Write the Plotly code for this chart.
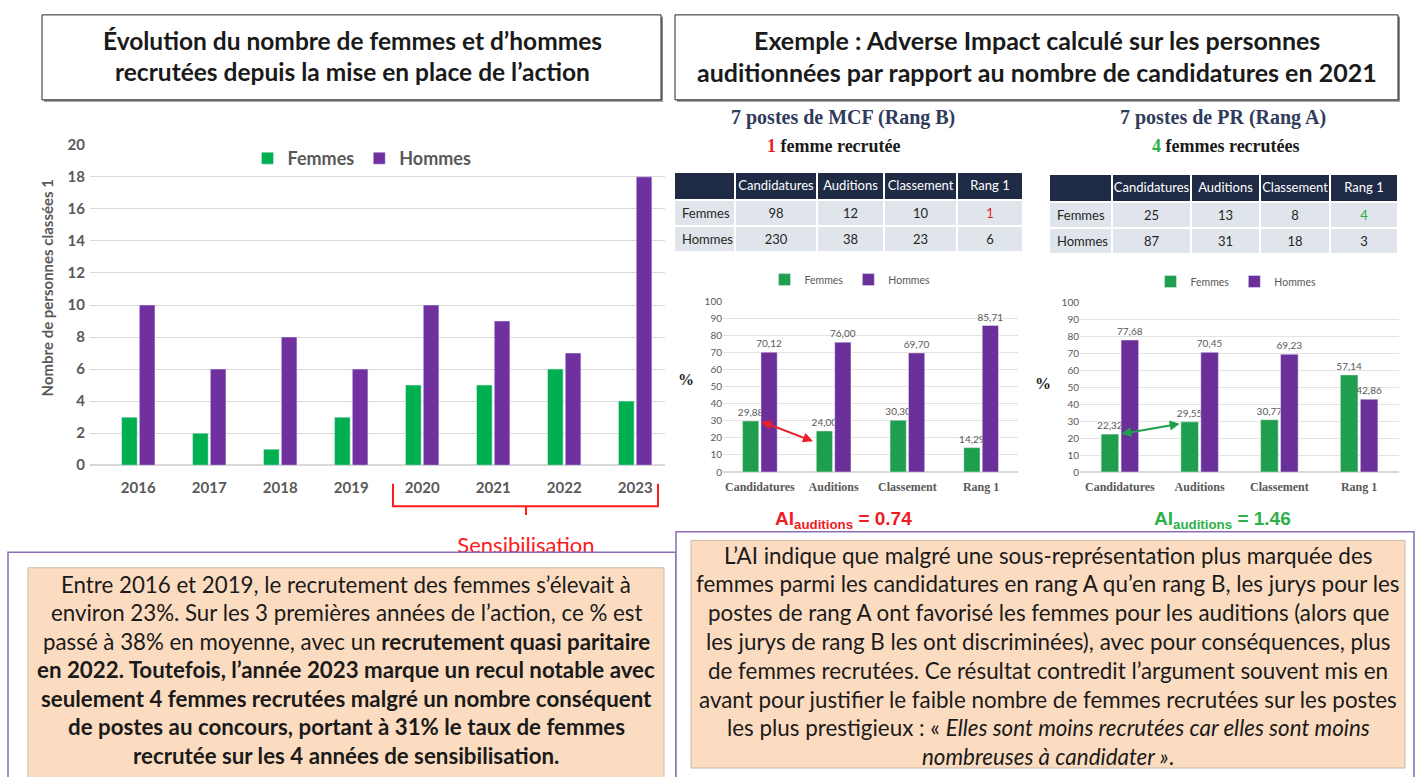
import plotly.graph_objects as go

W, H = 1415, 777

# Recrutements (personnes classées 1) par année
years = ["2016", "2017", "2018", "2019", "2020", "2021", "2022", "2023"]
femmes = [3, 2, 1, 3, 5, 5, 6, 4]
hommes = [10, 6, 8, 6, 10, 9, 7, 18]

# Concours 2021 : étapes de sélection
etapes = ["Candidatures", "Auditions", "Classement", "Rang 1"]
mcf_femmes = [98, 12, 10, 1]
mcf_hommes = [230, 38, 23, 6]
mcf_pct_femmes = [29.88, 24.00, 30.30, 14.29]
mcf_pct_hommes = [70.12, 76.00, 69.70, 85.71]
pr_femmes = [25, 13, 8, 4]
pr_hommes = [87, 31, 18, 3]
pr_pct_femmes = [22.32, 29.55, 30.77, 57.14]
pr_pct_hommes = [77.68, 70.45, 69.23, 42.86]
ai_mcf = 0.74
ai_pr = 1.46

GREEN = "#00b050"
PURPLE = "#7030a0"
GREEN2 = "#1f9f4d"
PURPLE2 = "#6a2f98"
GREY = "#595959"
RED = "#ee1c25"
OKGREEN = "#2db04a"
PEACH = "#fcdcc0"
BOXPURPLE = "#8a6cb8"
NAVY = "#1f2a45"
ROWFILL = "#dfe5ea"
SANS = "Lato"
SERIF = "Liberation Serif"


def fx(x):
    return x / W


def fy(y):
    return 1 - y / H


fig = go.Figure()

# ---- Histogramme principal ----
xi = list(range(len(years)))
fig.add_trace(go.Bar(x=xi, y=femmes, name="Femmes", marker_color=GREEN,
                     xaxis="x", yaxis="y", legend="legend", hoverinfo="skip"))
fig.add_trace(go.Bar(x=xi, y=hommes, name="Hommes", marker_color=PURPLE,
                     xaxis="x", yaxis="y", legend="legend", hoverinfo="skip"))

# libellé de la période de sensibilisation, rogné par l'encadré du dessous
fig.add_trace(go.Scatter(x=[0.5], y=[0.15], text=["Sensibilisation"], mode="text",
                         textfont=dict(family=SANS, size=22, color="#ff1a1a"),
                         cliponaxis=True, showlegend=False, hoverinfo="skip",
                         xaxis="x4", yaxis="y4"))

# ---- Pourcentages MCF / PR ----
bar_text = dict(texttemplate="%{y:.2f}", textposition="outside", cliponaxis=False,
                constraintext="none", textfont=dict(family=SANS, size=10, color=GREY),
                hoverinfo="skip")
fig.add_trace(go.Bar(x=etapes, y=mcf_pct_femmes, name="Femmes", marker_color=GREEN2,
                     xaxis="x2", yaxis="y2", legend="legend2", **bar_text))
fig.add_trace(go.Bar(x=etapes, y=mcf_pct_hommes, name="Hommes", marker_color=PURPLE2,
                     xaxis="x2", yaxis="y2", legend="legend2", **bar_text))
fig.add_trace(go.Bar(x=etapes, y=pr_pct_femmes, name="Femmes", marker_color=GREEN2,
                     xaxis="x3", yaxis="y3", legend="legend3", **bar_text))
fig.add_trace(go.Bar(x=etapes, y=pr_pct_hommes, name="Hommes", marker_color=PURPLE2,
                     xaxis="x3", yaxis="y3", legend="legend3", **bar_text))


# ---- Tableaux d'effectifs ----
def table(fem, hom, highlight, x0, x1, y0, widths):
    last = len(fem) - 1
    cols = [["Femmes", "Hommes"]] + [[f, h] for f, h in zip(fem, hom)]
    colors = [["#262626", "#262626"]] * last + [["#262626", "#262626"], [highlight, "#262626"]]
    header = [""] + [e.replace(" ", "\u00a0") for e in etapes]
    return go.Table(
        domain=dict(x=[fx(x0), fx(x1)], y=[fy(y0 + 84), fy(y0)]),
        columnwidth=widths,
        header=dict(values=header, fill_color=NAVY, height=28,
                    line=dict(color="white", width=1.5),
                    font=dict(family=SANS, size=13, color="white"), align="center"),
        cells=dict(values=cols, fill_color=ROWFILL, height=26,
                   line=dict(color="white", width=1.5),
                   font=dict(family=SANS, size=13, color=colors),
                   align=["left", "center", "center", "center", "center"]),
    )


fig.add_trace(table(mcf_femmes, mcf_hommes, RED, 674, 1023, 166, [61, 82, 67, 73, 66]))
fig.add_trace(table(pr_femmes, pr_hommes, OKGREEN, 1049, 1398, 168, [63, 79, 69, 70, 68]))

tickfont_b = dict(family=SANS, size=15, color=GREY, weight="bold")
sub_x = dict(type="category", showgrid=False, zeroline=False, showline=False, ticks="",
             tickfont=dict(family=SERIF, size=12, color=GREY, weight="bold"),
             ticklabelstandoff=6, fixedrange=True)
sub_y = dict(range=[0, 100], dtick=10, gridcolor="#e3e3e3", gridwidth=1, zeroline=True,
             zerolinecolor="#d9d9d9", showline=False, ticks="",
             tickfont=dict(family=SANS, size=10, color=GREY), fixedrange=True)

fig.update_layout(
    width=W, height=H,
    margin=dict(l=0, r=0, t=0, b=0),
    paper_bgcolor="white", plot_bgcolor="white",
    separators=", ",
    barmode="group", bargap=0.5, bargroupgap=0.12,
    font=dict(family=SANS, color="#1a1a1a"),
    xaxis=dict(domain=[fx(90), fx(665)], range=[-0.68, 7.42], tickvals=xi, ticktext=years,
               showgrid=False, zeroline=False, showline=False, ticks="",
               tickfont=tickfont_b, ticklabelstandoff=12, fixedrange=True),
    yaxis=dict(domain=[fy(466), fy(138)], range=[0, 20], dtick=2,
               gridcolor="#d9d9d9", zeroline=True, zerolinecolor="#d9d9d9",
               showline=False, ticks="", tickfont=tickfont_b, ticklabelstandoff=4,
               fixedrange=True),
    xaxis2=dict(domain=[fx(723), fx(1018)], anchor="y2", **sub_x),
    yaxis2=dict(domain=[fy(473), fy(298)], anchor="x2", **sub_y),
    xaxis3=dict(domain=[fx(1080), fx(1399)], anchor="y3", **sub_x),
    yaxis3=dict(domain=[fy(473), fy(299)], anchor="x3", **sub_y),
    xaxis4=dict(domain=[fx(396), fx(656)], range=[0, 1], visible=False, fixedrange=True),
    yaxis4=dict(domain=[fy(555), fy(520)], range=[0, 1], visible=False, fixedrange=True),
    legend=dict(x=fx(362), y=fy(152), xanchor="center", yanchor="middle",
                orientation="h", itemwidth=30, bgcolor="rgba(0,0,0,0)",
                font=dict(family=SANS, size=18, color=GREY, weight="bold")),
    legend2=dict(x=fx(850), y=fy(276), xanchor="center", yanchor="middle",
                 orientation="h", itemwidth=30, bgcolor="rgba(0,0,0,0)",
                 font=dict(family=SANS, size=10.5, color=GREY)),
    legend3=dict(x=fx(1236), y=fy(278), xanchor="center", yanchor="middle",
                 orientation="h", itemwidth=30, bgcolor="rgba(0,0,0,0)",
                 font=dict(family=SANS, size=10.5, color=GREY)),
    showlegend=True,
)

shapes = []


def rect(x0, y0, x1, y1, line_color, fill, width=1, layer="below"):
    shapes.append(dict(type="rect", xref="paper", yref="paper",
                       x0=fx(x0), x1=fx(x1), y0=fy(y1), y1=fy(y0),
                       line=dict(color=line_color, width=width), fillcolor=fill, layer=layer))


# cadres des titres avec ombre
for (a, b) in [(42, 661), (675, 1398)]:
    rect(a + 2, 7, b + 2, 94, "#8c8c8c", "#8c8c8c", width=0)
    rect(a, 5, b, 92, "#262626", "white", width=1)

# accolade rouge de la période de sensibilisation
bx0, bx1, by0, by1, bmid = 393, 658, 485, 508, 526
shapes.append(dict(type="path", xref="paper", yref="paper", layer="above",
                   path=(f"M{fx(bx0)},{fy(by0)} L{fx(bx0)},{fy(by1)} L{fx(bx1)},{fy(by1)} "
                         f"L{fx(bx1)},{fy(by0)} M{fx(bmid)},{fy(by1)} L{fx(bmid)},{fy(517)}"),
                   line=dict(color="#ff1a1a", width=2)))

# encadrés de commentaires
rect(8, 555, 676, 800, BOXPURPLE, "white", width=1.5, layer="above")
rect(676, 534, 1414, 800, BOXPURPLE, "white", width=1.5, layer="above")
rect(28, 571, 664, 790, "#c9b8a8", PEACH, width=1, layer="above")
rect(691, 543, 1405, 776, "#c9b8a8", PEACH, width=1, layer="above")

fig.update_layout(shapes=shapes)

ann = []


def text(x, y, s, size, color="#1a1a1a", family=SANS, **kw):
    ann.append(dict(x=fx(x), y=fy(y), xref="paper", yref="paper", text=s, showarrow=False,
                    xanchor="center", yanchor="middle",
                    font=dict(family=family, size=size, color=color), **kw))


# titres
text(352, 31, "<b>Évolution du nombre de femmes et d’hommes</b>", 24.5)
text(352, 63, "<b>recrutées depuis la mise en place de l’action</b>", 24.5)
text(1037, 31, "<b>Exemple : Adverse Impact calculé sur les personnes</b>", 25)
text(1037, 63, "<b>auditionnées par rapport au nombre de candidatures en 2021</b>", 25)

# titre de l'axe des ordonnées
text(47, 285, "<b>Nombre de personnes classées 1</b>", 15, color=GREY, textangle=-90)

# sous-titres des deux concours
text(843, 110, "<b>7 postes de MCF (Rang B)</b>", 20, color="#303c5c", family=SERIF)
text(834, 139, f"<b><span style='color:{RED}'>{mcf_femmes[-1]}</span> femme recrutée</b>",
     18, family=SERIF)
text(1223, 110, "<b>7 postes de PR (Rang A)</b>", 20, color="#303c5c", family=SERIF)
text(1226, 139, f"<b><span style='color:{OKGREEN}'>{pr_femmes[-1]}</span> femmes recrutées</b>",
     18, family=SERIF)

text(686, 378, "<b>%</b>", 16, family=SERIF, color="#262626")
text(1043, 382, "<b>%</b>", 16, family=SERIF, color="#262626")

text(843, 522, f"<b>AI<sub>auditions</sub> = {ai_mcf:.2f}</b>", 19, color=RED,
     family="Liberation Sans")
text(1222, 522, f"<b>AI<sub>auditions</sub> = {ai_pr:.2f}</b>", 19, color=OKGREEN,
     family="Liberation Sans")

# flèches de comparaison candidatures -> auditions
ann.append(dict(xref="x2", yref="y2", axref="x2", ayref="y2",
                x=0.72, y=mcf_pct_femmes[1] - 6, ax=0.0, ay=mcf_pct_femmes[0],
                text="", showarrow=True, arrowhead=2, startarrowhead=2, arrowside="end+start",
                arrowsize=1, arrowwidth=2, arrowcolor="#e8202a", standoff=0, startstandoff=0))
ann.append(dict(xref="x3", yref="y3", axref="x3", ayref="y3",
                x=0.75, y=pr_pct_femmes[1] - 1.2, ax=0.0, ay=pr_pct_femmes[0],
                text="", showarrow=True, arrowhead=2, startarrowhead=2, arrowside="end+start",
                arrowsize=1, arrowwidth=2, arrowcolor="#20a04a", standoff=0, startstandoff=0))

# commentaires
left_lines = [
    "Entre 2016 et 2019, le recrutement des femmes s’élevait à",
    "environ 23%. Sur les 3 premières années de l’action, ce % est",
    "passé à 38% en moyenne, avec un <b>recrutement quasi paritaire</b>",
    "<b>en 2022. Toutefois, l’année 2023 marque un recul notable avec</b>",
    "<b>seulement 4 femmes recrutées malgré un nombre conséquent</b>",
    "<b>de postes au concours, portant à 31% le taux de femmes</b>",
    "<b>recrutée sur les 4 années de sensibilisation.</b>",
]
for i, s in enumerate(left_lines):
    text(346, 588 + i * 29.2, s, 22.3)

right_lines = [
    "L’AI indique que malgré une sous-représentation plus marquée des",
    "femmes parmi les candidatures en rang A qu’en rang B, les jurys pour les",
    "postes de rang A ont favorisé les femmes pour les auditions (alors que",
    "les jurys de rang B les ont discriminées), avec pour conséquences, plus",
    "de femmes recrutées. Ce résultat contredit l’argument souvent mis en",
    "avant pour justifier le faible nombre de femmes recrutées sur les postes",
    "les plus prestigieux : « <i>Elles sont moins recrutées car elles sont moins</i>",
    "<i>nombreuses à candidater »</i>.",
]
for i, s in enumerate(right_lines):
    text(1048, 558 + i * 29.5, s, 22.4)

fig.update_layout(annotations=ann)

fig.write_html("out.html")
